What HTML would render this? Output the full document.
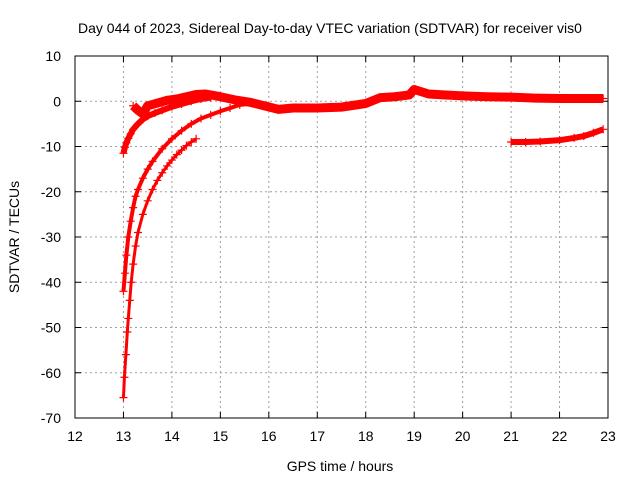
<!DOCTYPE html>
<html><head><meta charset="utf-8"><style>
body{margin:0;background:#fff}
svg{display:block;font-family:"Liberation Sans",sans-serif}
</style></head><body>
<svg width="640" height="480">
<text x="330" y="33" text-anchor="middle" font-size="14">Day 044 of 2023, Sidereal Day-to-day VTEC variation (SDTVAR) for receiver vis0</text>
<g id="grid"></g>
<g id="ticks"></g>
<g id="series"></g>
<rect x="75" y="56" width="533" height="362" fill="none" stroke="#000"/>
<text x="340" y="471" text-anchor="middle" font-size="14">GPS time / hours</text>
<text x="19" y="237" text-anchor="middle" font-size="14" transform="rotate(-90 19 237)">SDTVAR / TECUs</text>
</svg>
<script>
const xTicks=[12,13,14,15,16,17,18,19,20,21,22,23];
const yTicks=[10,0,-10,-20,-30,-40,-50,-60,-70];
const seriesTopX=[13.2,13.3,13.4,13.5,13.7,13.9,14.1,14.3,14.5,14.7,15.0,15.3,15.6,15.9,16.2,16.5,17.0,17.5,18.0,18.3,18.6,18.9,19.0,19.3,19.6,20.0,20.5,21.0,21.5,22.0,22.5,22.9];
const seriesTopY=[-1.0,-2.0,-2.8,-1.0,-0.4,0.2,0.5,1.0,1.5,1.6,1.0,0.3,-0.2,-1.0,-1.8,-1.5,-1.5,-1.3,-0.5,0.8,1.0,1.4,2.6,1.6,1.4,1.2,1.0,0.9,0.7,0.6,0.6,0.6];
const seriesAX=[13.0,13.03,13.06,13.1,13.15,13.2,13.3,13.4,13.5,13.65,13.8,14.0,14.2,14.4,14.6,14.8];
const seriesAY=[-11.5,-10.2,-9.2,-8.2,-7.2,-6.2,-5.0,-4.0,-3.3,-2.6,-2.0,-1.2,-0.6,0.0,0.5,0.8];
const seriesBX=[13.0,13.03,13.06,13.1,13.15,13.2,13.25,13.3,13.4,13.5,13.6,13.8,14.0,14.2,14.4,14.6,14.8,15.0,15.2,15.4,15.7];
const seriesBY=[-42,-38,-34,-30,-26.5,-23.5,-21,-19.5,-17,-15,-13.3,-10.5,-8.3,-6.5,-5,-3.8,-3,-2.2,-1.5,-0.8,-0.5];
const seriesCX=[13.0,13.02,13.05,13.08,13.1,13.13,13.16,13.2,13.25,13.3,13.4,13.5,13.6,13.7,13.8,13.9,14.0,14.1,14.2,14.3,14.4,14.5];
const seriesCY=[-65.5,-61,-56,-51,-48,-44,-40,-36,-32,-29,-25,-22,-19.5,-17.5,-15.8,-14.3,-13,-11.8,-10.8,-9.8,-9,-8.3];
const seriesDX=[21.0,21.3,21.6,22.0,22.3,22.5,22.7,22.9];
const seriesDY=[-9.0,-9.0,-8.9,-8.6,-8.1,-7.7,-7.0,-6.2];
const X=h=>75+(h-12)*533/11, Y=v=>56+(10-v)*362/80;
const NS="http://www.w3.org/2000/svg";
function mk(t,a,p){const e=document.createElementNS(NS,t);for(const k in a)e.setAttribute(k,a[k]);p.appendChild(e);return e;}
const grid=document.getElementById('grid'),ticks=document.getElementById('ticks'),ser=document.getElementById('series');
xTicks.forEach(t=>{
 if(t>12&&t<23){const l=mk('line',{x1:X(t),x2:X(t),y1:56,y2:418,stroke:'#a0a0a0','stroke-dasharray':'2,3'},grid);
 }
 mk('line',{x1:X(t),x2:X(t),y1:418,y2:412,stroke:'#000'},ticks);mk('line',{x1:X(t),x2:X(t),y1:56,y2:62,stroke:'#000'},ticks);
 const tx=mk('text',{x:X(t),y:441,'text-anchor':'middle','font-size':14},ticks);tx.textContent=t;
 
});
yTicks.forEach(t=>{
 if(t<10&&t>-70){const l=mk('line',{x1:75,x2:608,y1:Y(t),y2:Y(t),stroke:'#a0a0a0','stroke-dasharray':'2,3'},grid);
 }
 mk('line',{x1:75,x2:81,y1:Y(t),y2:Y(t),stroke:'#000'},ticks);mk('line',{x1:608,x2:602,y1:Y(t),y2:Y(t),stroke:'#000'},ticks);
 const tx=mk('text',{x:61,y:Y(t)+5,'text-anchor':'end','font-size':14},ticks);tx.textContent=t;
 
});
function draw(xs,ys,name,w){
 const g=mk('g',{},ser);
 
 
 mk('polyline',{points:xs.map((x,i)=>X(x)+','+Y(ys[i])).join(' '),fill:'none',stroke:'#f00','stroke-width':w,'stroke-linejoin':'round'},g);
 xs.forEach((x,i)=>{const cx=X(x),cy=Y(ys[i]);
  mk('path',{d:`M${cx-4} ${cy}H${cx+4}M${cx} ${cy-4}V${cy+4}`,stroke:'#f00','stroke-width':1.2},g);});
}
draw(seriesTopX,seriesTopY,'series-main-band',9);
draw(seriesAX,seriesAY,'series-a',6);
draw(seriesBX,seriesBY,'series-b',4);
draw(seriesCX,seriesCY,'series-c',3);
draw(seriesDX,seriesDY,'series-d',6);
</script>
</body></html>
